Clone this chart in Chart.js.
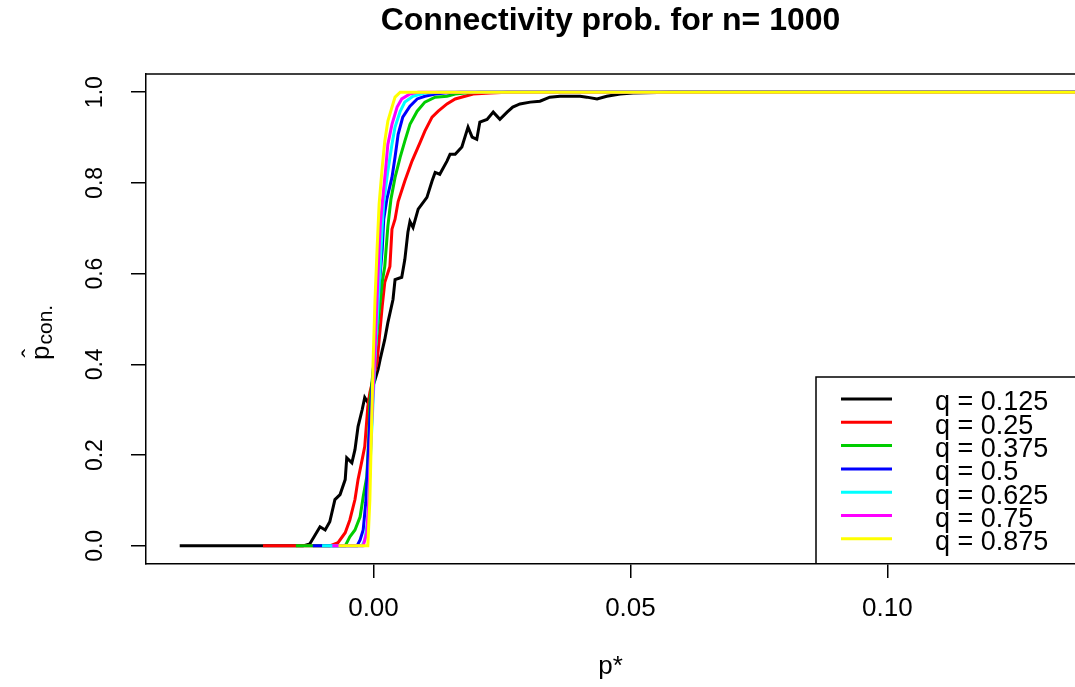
<!DOCTYPE html>
<html><head><meta charset="utf-8">
<script src="https://cdn.jsdelivr.net/npm/chart.js@4/dist/chart.umd.min.js"></script>
<style>html,body{margin:0;padding:0;background:#fff;}canvas{display:block;}</style>
</head><body>
<canvas id="c" width="1075" height="687"></canvas>
<script>
// ---- data ----
const seriesLabels = ['q = 0.125', 'q = 0.25', 'q = 0.375', 'q = 0.5', 'q = 0.625', 'q = 0.75', 'q = 0.875'];
const seriesColors = ['#000000', '#FF0000', '#00CD00', '#0000FF', '#00FFFF', '#FF00FF', '#FFFF00'];

const x_q125 = [-0.0377, -0.0137, -0.0124, -0.0104, -0.0094, -0.0085, -0.0075, -0.0065, -0.0055, -0.0052, -0.0042, -0.0036, -0.0030, -0.0022, -0.0017, -0.0011, 0.0003, 0.0009, 0.0013, 0.0022, 0.0028, 0.0038, 0.0042, 0.0055, 0.0061, 0.0067, 0.0071, 0.0077, 0.0087, 0.0104, 0.0114, 0.0120, 0.0129, 0.0143, 0.0149, 0.0159, 0.0172, 0.0184, 0.0192, 0.0201, 0.0207, 0.0221, 0.0233, 0.0246, 0.0260, 0.0271, 0.0285, 0.0305, 0.0324, 0.0343, 0.0363, 0.0402, 0.0415, 0.0435, 0.0454, 0.0480, 0.0505, 0.0577, 0.14];
const y_q125 = [0, 0, 0.004, 0.042, 0.035, 0.053, 0.102, 0.113, 0.146, 0.194, 0.183, 0.212, 0.263, 0.300, 0.327, 0.316, 0.366, 0.389, 0.411, 0.455, 0.492, 0.543, 0.587, 0.592, 0.631, 0.691, 0.715, 0.702, 0.742, 0.768, 0.804, 0.823, 0.819, 0.848, 0.863, 0.863, 0.879, 0.923, 0.901, 0.896, 0.934, 0.940, 0.956, 0.940, 0.956, 0.967, 0.974, 0.978, 0.980, 0.989, 0.991, 0.991, 0.989, 0.985, 0.991, 0.996, 0.998, 1, 1];

const x_q250 = [-0.0215, -0.0085, -0.0069, -0.0055, -0.0046, -0.0036, -0.0030, -0.0022, -0.0017, -0.0011, -0.0007, 0.0007, 0.0017, 0.0022, 0.0032, 0.0036, 0.0042, 0.0048, 0.0061, 0.0075, 0.0091, 0.0100, 0.0114, 0.0126, 0.0143, 0.0159, 0.0178, 0.0194, 0.0227, 0.0260, 0.14];
const y_q250 = [0, 0, 0.007, 0.029, 0.057, 0.102, 0.146, 0.190, 0.219, 0.307, 0.338, 0.404, 0.528, 0.581, 0.616, 0.698, 0.720, 0.759, 0.804, 0.848, 0.890, 0.914, 0.945, 0.958, 0.974, 0.985, 0.991, 0.996, 0.998, 1, 1];

const x_q375 = [-0.0151, -0.0055, -0.0046, -0.0036, -0.0026, -0.0020, -0.0013, -0.0009, -0.0007, 0.0009, 0.0017, 0.0022, 0.0028, 0.0034, 0.0042, 0.0052, 0.0061, 0.0071, 0.0085, 0.0100, 0.0120, 0.0143, 0.0159, 0.0178, 0.0207, 0.14];
const y_q375 = [0, 0, 0.020, 0.035, 0.064, 0.108, 0.152, 0.241, 0.316, 0.492, 0.581, 0.616, 0.704, 0.764, 0.812, 0.857, 0.892, 0.929, 0.958, 0.978, 0.989, 0.991, 0.996, 0.998, 1, 1];

const x_q500 = [-0.0118, -0.0032, -0.0026, -0.0020, -0.0015, -0.0011, -0.0007, 0.0009, 0.0017, 0.0020, 0.0026, 0.0036, 0.0042, 0.0048, 0.0057, 0.0071, 0.0085, 0.0100, 0.0120, 0.0139, 0.0168, 0.14];
const y_q500 = [0, 0, 0.013, 0.035, 0.095, 0.183, 0.280, 0.543, 0.653, 0.720, 0.764, 0.812, 0.857, 0.907, 0.945, 0.969, 0.985, 0.991, 0.996, 0.998, 1, 1];

const x_q625 = [-0.0100, -0.0022, -0.0017, -0.0011, -0.0007, 0.0003, 0.0013, 0.0017, 0.0020, 0.0028, 0.0036, 0.0042, 0.0052, 0.0061, 0.0077, 0.0100, 0.0129, 0.14];
const y_q625 = [0, 0, 0.013, 0.057, 0.168, 0.411, 0.616, 0.704, 0.757, 0.826, 0.885, 0.923, 0.958, 0.978, 0.991, 0.998, 1, 1];

const x_q750 = [-0.0080, -0.0020, -0.0013, -0.0009, -0.0005, 0.0003, 0.0009, 0.0013, 0.0017, 0.0024, 0.0028, 0.0036, 0.0046, 0.0055, 0.0071, 0.0087, 0.14];
const y_q750 = [0, 0, 0.029, 0.102, 0.234, 0.433, 0.603, 0.704, 0.753, 0.834, 0.885, 0.929, 0.967, 0.985, 0.996, 1, 1];

const x_q875 = [-0.0068, -0.0011, -0.0007, -0.0001, 0.0003, 0.0007, 0.0011, 0.0017, 0.0022, 0.0028, 0.0036, 0.0042, 0.0052, 0.14];
const y_q875 = [0, 0, 0.102, 0.395, 0.543, 0.653, 0.753, 0.834, 0.892, 0.936, 0.967, 0.989, 1, 1];

const xTicks = [0, 0.05, 0.10];
const xTickLabels = ['0.00', '0.05', '0.10'];
const yTicks = [0, 0.2, 0.4, 0.6, 0.8, 1.0];
const yTickLabels = ['0.0', '0.2', '0.4', '0.6', '0.8', '1.0'];

const titleText = 'Connectivity prob. for n= 1000';
const xTitle = 'p*';

// ---- build ----
const FONT = '"Liberation Sans", Arial, sans-serif';
const seriesX = [x_q125, x_q250, x_q375, x_q500, x_q625, x_q750, x_q875];
const seriesY = [y_q125, y_q250, y_q375, y_q500, y_q625, y_q750, y_q875];

const datasets = seriesLabels.map((lab, i) => ({
  label: lab,
  data: seriesX[i].map((x, j) => ({x: x, y: seriesY[i][j]})),
  borderColor: seriesColors[i],
  backgroundColor: seriesColors[i],
  borderWidth: 3,
  showLine: true,
  pointRadius: 0,
  tension: 0,
  fill: false,
  order: seriesLabels.length - i
}));

const rPlugin = {
  id: 'rstyle',
  afterDraw(chart) {
    const {ctx, chartArea: a} = chart;
    ctx.save();
    // top border of box
    ctx.strokeStyle = '#000';
    ctx.lineWidth = 1.5;
    ctx.beginPath();
    ctx.moveTo(a.left, a.top);
    ctx.lineTo(a.right + 10, a.top);
    ctx.stroke();

    // legend box
    const bx = 816, by = 377;
    ctx.beginPath();
    ctx.moveTo(a.right + 10, by);
    ctx.lineTo(bx, by);
    ctx.lineTo(bx, a.bottom);
    ctx.stroke();
    const rowY0 = 399, rowH = 23.3;
    chart.data.datasets.forEach((ds, i) => {
      const y = rowY0 + i * rowH;
      ctx.strokeStyle = ds.borderColor;
      ctx.lineWidth = 3;
      ctx.beginPath();
      ctx.moveTo(841, y);
      ctx.lineTo(892, y);
      ctx.stroke();
      ctx.fillStyle = '#000';
      ctx.font = '27px ' + FONT;
      ctx.textAlign = 'left';
      ctx.textBaseline = 'middle';
      ctx.fillText(ds.label, 935, y + 4);
    });

    // y axis title: p-hat with subscript "con."
    ctx.translate(49, 360);
    ctx.rotate(-Math.PI / 2);
    ctx.fillStyle = '#000';
    ctx.textAlign = 'left';
    ctx.textBaseline = 'alphabetic';
    ctx.font = '26px ' + FONT;
    ctx.fillText('p', 0, 0);
    const pw = ctx.measureText('p').width;
    ctx.fillText('\u02C6', pw * 0.18, -9);
    ctx.font = '21px ' + FONT;
    ctx.fillText('con.', pw + 1, 3);
    ctx.restore();
  }
};

new Chart(document.getElementById('c'), {
  type: 'scatter',
  data: {datasets},
  plugins: [rPlugin],
  options: {
    responsive: false,
    devicePixelRatio: 1,
    animation: false,
    layout: {padding: {left: 0, right: 0, top: 0, bottom: 0}},
    plugins: {
      legend: {display: false},
      tooltip: {enabled: false},
      title: {
        display: true,
        text: titleText,
        color: '#000',
        fullSize: false,
        font: {family: FONT, size: 32, weight: 'bold'},
        padding: {top: 2, bottom: 33.6}
      }
    },
    scales: {
      x: {
        type: 'linear',
        position: 'bottom',
        min: -0.04426,
        max: 0.1365,
        afterBuildTicks: (s) => { s.ticks = xTicks.map(v => ({value: v})); },
        afterFit: (s) => { s.height = 123; },
        grid: {display: true, drawOnChartArea: false, drawTicks: true, tickLength: 14, color: '#000', lineWidth: 1.5},
        border: {display: true, color: '#000', width: 1.5},
        ticks: {
          autoSkip: false,
          maxRotation: 0,
          minRotation: 0,
          color: '#000',
          padding: 15,
          font: {family: FONT, size: 26},
          callback: (v) => { const k = xTicks.indexOf(v); return k >= 0 ? xTickLabels[k] : ''; }
        },
        title: {display: true, text: xTitle, color: '#000', font: {family: FONT, size: 26}, padding: {top: 0, bottom: 5}}
      },
      y: {
        type: 'linear',
        position: 'left',
        min: -0.04,
        max: 1.04,
        afterBuildTicks: (s) => { s.ticks = yTicks.map(v => ({value: v})); },
        afterFit: (s) => { s.width = 146; },
        grid: {display: true, drawOnChartArea: false, drawTicks: true, tickLength: 15, color: '#000', lineWidth: 1.5},
        border: {display: true, color: '#000', width: 1.5},
        ticks: {
          autoSkip: false,
          minRotation: 90,
          maxRotation: 90,
          crossAlign: 'center',
          color: '#000',
          padding: 19,
          font: {family: FONT, size: 23},
          callback: (v) => { const k = yTicks.findIndex(t => Math.abs(t - v) < 1e-9); return k >= 0 ? yTickLabels[k] : ''; }
        }
      }
    }
  }
});
</script>
</body></html>
